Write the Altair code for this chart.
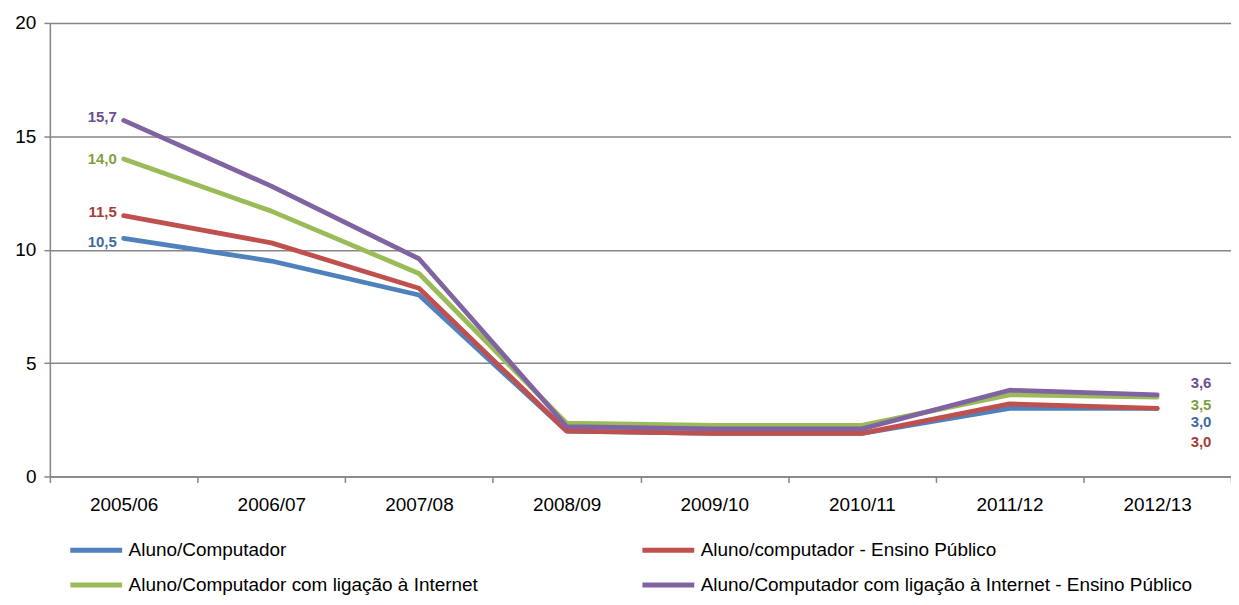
import altair as alt
import pandas as pd

years = ["2005/06", "2006/07", "2007/08", "2008/09", "2009/10", "2010/11", "2011/12", "2012/13"]
series_names = [
    "Aluno/Computador",
    "Aluno/computador - Ensino Público",
    "Aluno/Computador com ligação à Internet",
    "Aluno/Computador com ligação à Internet - Ensino Público",
]
aluno_comp = [10.5, 9.5, 8.0, 2.0, 1.9, 1.9, 3.0, 3.0]
aluno_comp_pub = [11.5, 10.3, 8.3, 2.0, 1.9, 1.9, 3.2, 3.0]
aluno_net = [14.0, 11.7, 8.95, 2.35, 2.25, 2.25, 3.6, 3.5]
aluno_net_pub = [15.7, 12.8, 9.6, 2.2, 2.1, 2.1, 3.8, 3.6]

line_colors = ["#4F81BD", "#C0504D", "#9BBB59", "#8064A2"]
label_colors = ["#3E6AA3", "#A53C39", "#7F9F3F", "#6A5090"]

all_values = [aluno_comp, aluno_comp_pub, aluno_net, aluno_net_pub]
rows = []
for k, (name, vals) in enumerate(zip(series_names, all_values)):
    for yr, v in zip(years, vals):
        rows.append({"ano": yr, "serie": name, "ordem": k, "valor": v,
                     "rotulo": f"{v:.1f}".replace(".", ",")})
df = pd.DataFrame(rows)

# legend fills column by column: order the domain so rows read like the reference
legend_order = [0, 2, 1, 3]
legend_domain = [series_names[i] for i in legend_order]
legend_range = [line_colors[i] for i in legend_order]

FONT = "Liberation Sans"
GRID = "#868686"

x_enc = alt.X("ano:N", sort=years, title=None, bandPosition=0.5,
              scale=alt.Scale(type="band", paddingInner=0, paddingOuter=0),
              axis=alt.Axis(tickBand="extent", labelAngle=0, labelFontSize=19,
                            labelFont=FONT, labelColor="#000000", labelPadding=13,
                            tickSize=6, tickColor=GRID, domainColor=GRID,
                            domainWidth=1.5, tickWidth=1.5, grid=False))
y_enc = alt.Y("valor:Q", title=None,
              scale=alt.Scale(domain=[0, 20], nice=False),
              axis=alt.Axis(values=[0, 5, 10, 15, 20], labelFontSize=19,
                            labelFont=FONT, labelColor="#000000", labelPadding=8,
                            tickSize=6, tickColor=GRID, domainColor=GRID,
                            domainWidth=1.5, tickWidth=1.5,
                            grid=True, gridColor=GRID, gridWidth=1.5))

lines = alt.Chart(df).mark_line(strokeWidth=4.8, strokeCap="round", strokeJoin="round").encode(
    x=x_enc,
    y=y_enc,
    color=alt.Color("serie:N", sort=legend_domain,
                    scale=alt.Scale(domain=legend_domain, range=legend_range),
                    legend=alt.Legend(title=None, orient="none", legendX=18, legendY=519,
                                      columns=2, columnPadding=162, rowPadding=15,
                                      symbolType="stroke", symbolSize=2704,
                                      clipHeight=20,
                                      symbolStrokeWidth=5, labelFontSize=19,
                                      labelFont=FONT, labelColor="#000000",
                                      labelOffset=4, labelLimit=800)),
    order=alt.Order("ordem:Q"),
)

first_offsets = [4, -4, 0, -3]
last_offsets = [14, 34, 8, -12]

layers = [lines]
for i, name in enumerate(series_names):
    base = alt.Chart(df[df["serie"] == name])
    layers.append(
        base.transform_filter(alt.datum.ano == years[0]).mark_text(
            align="right", baseline="middle", dx=-7, dy=first_offsets[i],
            fontSize=15, fontWeight="bold", font=FONT, color=label_colors[i]
        ).encode(x=alt.X("ano:N", sort=years, bandPosition=0.5), y="valor:Q", text="rotulo:N")
    )
    layers.append(
        base.transform_filter(alt.datum.ano == years[-1]).mark_text(
            align="center", baseline="middle", dx=44, dy=last_offsets[i],
            fontSize=15, fontWeight="bold", font=FONT, color=label_colors[i]
        ).encode(x=alt.X("ano:N", sort=years, bandPosition=0.5), y="valor:Q", text="rotulo:N")
    )

chart = alt.layer(*layers).properties(
    width=1185, height=455,
    autosize=alt.AutoSizeParams(type="none"),
    padding={"left": 42, "top": 14, "right": 0, "bottom": 120},
).configure_view(stroke=None).configure(background="#ffffff")

chart.save("out.html", embed_options={"renderer": "svg", "actions": False})
